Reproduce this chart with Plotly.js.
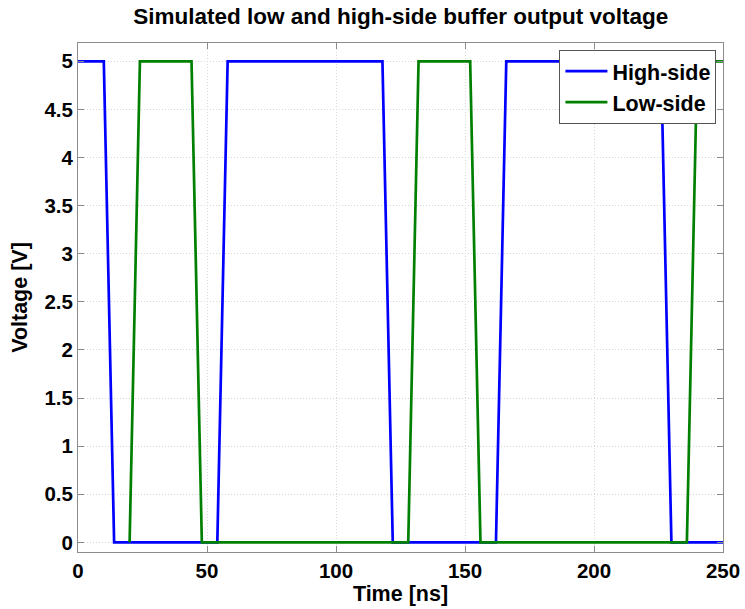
<!DOCTYPE html>
<html>
<head>
<meta charset="utf-8">
<script src="https://cdn.plot.ly/plotly-3.0.1.min.js"></script>
<style>html,body{margin:0;padding:0;background:#fff;}#chart{width:745px;height:609px;}</style>
</head>
<body>
<div id="chart"></div>
<script>
// Data (time in ns, voltage in V)
const highTime = [0, 10, 14, 54, 58, 118, 122, 162, 166, 226, 230, 250];
const highVolt = [5, 5, 0, 0, 5, 5, 0, 0, 5, 5, 0, 0];
const lowTime = [20, 24, 44, 48, 128, 132, 152, 156, 236, 240, 250];
const lowVolt = [0, 5, 5, 0, 0, 5, 5, 0, 0, 5, 5];
const xTicks = [0, 50, 100, 150, 200, 250];
const yTicks = [0, 0.5, 1, 1.5, 2, 2.5, 3, 3.5, 4, 4.5, 5];
const yTickText = ['0', '0.5', '1', '1.5', '2', '2.5', '3', '3.5', '4', '4.5', '5'];

const FONT = 'Liberation Sans, Arial, Helvetica, sans-serif';

const traces = [
  {x: highTime, y: highVolt, type: 'scatter', mode: 'lines', name: 'High-side',
   line: {color: '#0000ff', width: 2.7}},
  {x: lowTime, y: lowVolt, type: 'scatter', mode: 'lines', name: 'Low-side',
   line: {color: '#008000', width: 2.7}}
];

const axisCommon = {
  showline: true, linecolor: '#8c8c8c', linewidth: 1, mirror: 'ticks',
  ticks: 'inside', ticklen: 6, tickcolor: '#8c8c8c', tickwidth: 1,
  showgrid: true, gridcolor: '#d6d6d6', griddash: '1px,2px', gridwidth: 1,
  zeroline: false,
  tickfont: {family: FONT, size: 20.5, color: '#000', weight: 'bold'}
};

const layout = {
  width: 745, height: 609,
  paper_bgcolor: '#ffffff', plot_bgcolor: '#ffffff',
  margin: {l: 78, r: 22, t: 43, b: 57},
  title: {text: 'Simulated low and high-side buffer output voltage',
          font: {family: FONT, size: 22.5, color: '#000', weight: 'bold'},
          x: 0.538, xanchor: 'center', y: 0.973, yanchor: 'middle'},
  xaxis: Object.assign({}, axisCommon, {
    range: [0, 250], tickvals: xTicks, ticktext: xTicks.map(String),
    title: {text: 'Time [ns]', font: {family: FONT, size: 21.5, color: '#000', weight: 'bold'}, standoff: 4}
  }),
  yaxis: Object.assign({}, axisCommon, {
    range: [-0.1, 5.19], tickvals: yTicks, ticktext: yTickText,
    title: {text: 'Voltage [V]', font: {family: FONT, size: 21.5, color: '#000', weight: 'bold'}, standoff: 10}
  }),
  showlegend: true,
  legend: {x: 0.9898, xanchor: 'right', y: 0.9868, yanchor: 'top',
           bgcolor: '#ffffff', bordercolor: '#555', borderwidth: 1,
           font: {family: FONT, size: 21.5, color: '#000', weight: 'bold'},
           itemwidth: 42, tracegroupgap: 0}
};

Plotly.newPlot('chart', traces, layout, {displayModeBar: false, staticPlot: true});
</script>
</body>
</html>
